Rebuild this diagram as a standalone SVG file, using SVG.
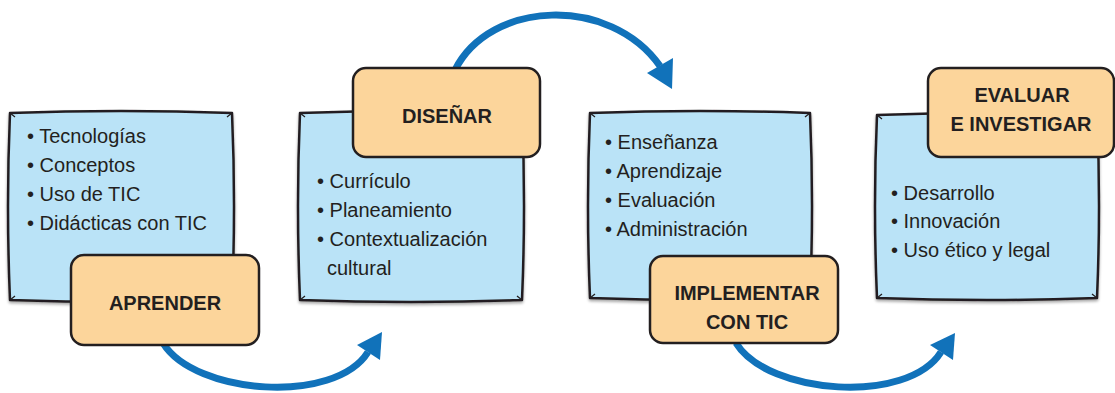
<svg xmlns="http://www.w3.org/2000/svg" width="1115" height="393" viewBox="0 0 1115 393">
<style>
.blue{fill:#BAE3F7;stroke:#231F20;stroke-width:2.5;stroke-linejoin:round}
.tick{fill:none;stroke:#231F20;stroke-width:1.3}
.orange{fill:#FCD59B;stroke:#231F20;stroke-width:2.5}
.item{font-family:"Liberation Sans",Arial,sans-serif;font-size:20px;fill:#231F20}
.title{font-family:"Liberation Sans",Arial,sans-serif;font-size:20px;font-weight:bold;fill:#231F20;text-anchor:middle}
.arc{fill:none;stroke:#1172BA;stroke-width:7}
.head{fill:#1172BA}
</style>
<defs>
<filter id="sh" x="-5%" y="-5%" width="110%" height="115%">
<feGaussianBlur in="SourceAlpha" stdDeviation="1.5"/>
<feOffset dx="0" dy="2" result="b"/>
<feComponentTransfer><feFuncA type="linear" slope="0.35"/></feComponentTransfer>
<feMerge><feMergeNode/><feMergeNode in="SourceGraphic"/></feMerge>
</filter>
</defs>
<rect width="1115" height="393" fill="#ffffff"/>
<g id="connectors">
<path class="arc" d="M455,70 C490,0 610,-5 660,66"/>
<polygon class="head" points="647,73 673,58 672,89"/>
<path class="arc" d="M163,343 C195,395 335,405 368,352"/>
<polygon class="head" points="357,345 382,332 380,360"/>
<path class="arc" d="M736,343 C768,395 908,405 941,352"/>
<polygon class="head" points="930,345 955,333 953,360"/>
</g>
<g id="aprender">
<path class="blue" filter="url(#sh)" d="M10,113 Q121,109 232,113 Q236,206 232,300 Q121,304 10,300 Q6,206 10,113 Z"/>
<path class="tick" d="M10,113 l5,4 M232,113 l-5,4 M10,300 l5,-4 M232,300 l-5,-4"/>
<text class="item" x="27" y="143">• Tecnologías</text>
<text class="item" x="27" y="172">• Conceptos</text>
<text class="item" x="27" y="201">• Uso de TIC</text>
<text class="item" x="27" y="230">• Didácticas con TIC</text>
<rect class="orange" x="71" y="255" width="188" height="90" rx="13"/>
<text class="title" x="165" y="310">APRENDER</text>
</g>
<g id="disenar">
<path class="blue" filter="url(#sh)" d="M300,113 Q411,109 522,113 Q526,206 522,300 Q411,304 300,300 Q296,206 300,113 Z"/>
<path class="tick" d="M300,113 l5,4 M522,113 l-5,4 M300,300 l5,-4 M522,300 l-5,-4"/>
<rect class="orange" x="353" y="68" width="187" height="89" rx="13"/>
<text class="title" x="447" y="123">DISEÑAR</text>
<text class="item" x="317" y="188">• Currículo</text>
<text class="item" x="317" y="217">• Planeamiento</text>
<text class="item" x="317" y="246">• Contextualización</text>
<text class="item" x="327" y="275">cultural</text>
</g>
<g id="implementar">
<path class="blue" filter="url(#sh)" d="M590,113 Q700,109 810,113 Q814,206 810,298 Q700,302 590,298 Q586,206 590,113 Z"/>
<path class="tick" d="M590,113 l5,4 M810,113 l-5,4 M590,298 l5,-4 M810,298 l-5,-4"/>
<text class="item" x="605" y="149">• Enseñanza</text>
<text class="item" x="605" y="178">• Aprendizaje</text>
<text class="item" x="605" y="207">• Evaluación</text>
<text class="item" x="605" y="236">• Administración</text>
<rect class="orange" x="650" y="256" width="188" height="87" rx="13"/>
<text class="title" x="747" y="300">IMPLEMENTAR</text>
<text class="title" x="747" y="329">CON TIC</text>
</g>
<g id="evaluar">
<path class="blue" filter="url(#sh)" d="M877,115 Q987,111 1097,115 Q1101,206 1097,298 Q987,302 877,298 Q873,206 877,115 Z"/>
<path class="tick" d="M877,115 l5,4 M1097,115 l-5,4 M877,298 l5,-4 M1097,298 l-5,-4"/>
<rect class="orange" x="928" y="68" width="186" height="89" rx="13"/>
<text class="title" x="1022" y="102">EVALUAR</text>
<text class="title" x="1021" y="131">E INVESTIGAR</text>
<text class="item" x="891" y="200">• Desarrollo</text>
<text class="item" x="891" y="228">• Innovación</text>
<text class="item" x="891" y="257">• Uso ético y legal</text>
</g>
</svg>
